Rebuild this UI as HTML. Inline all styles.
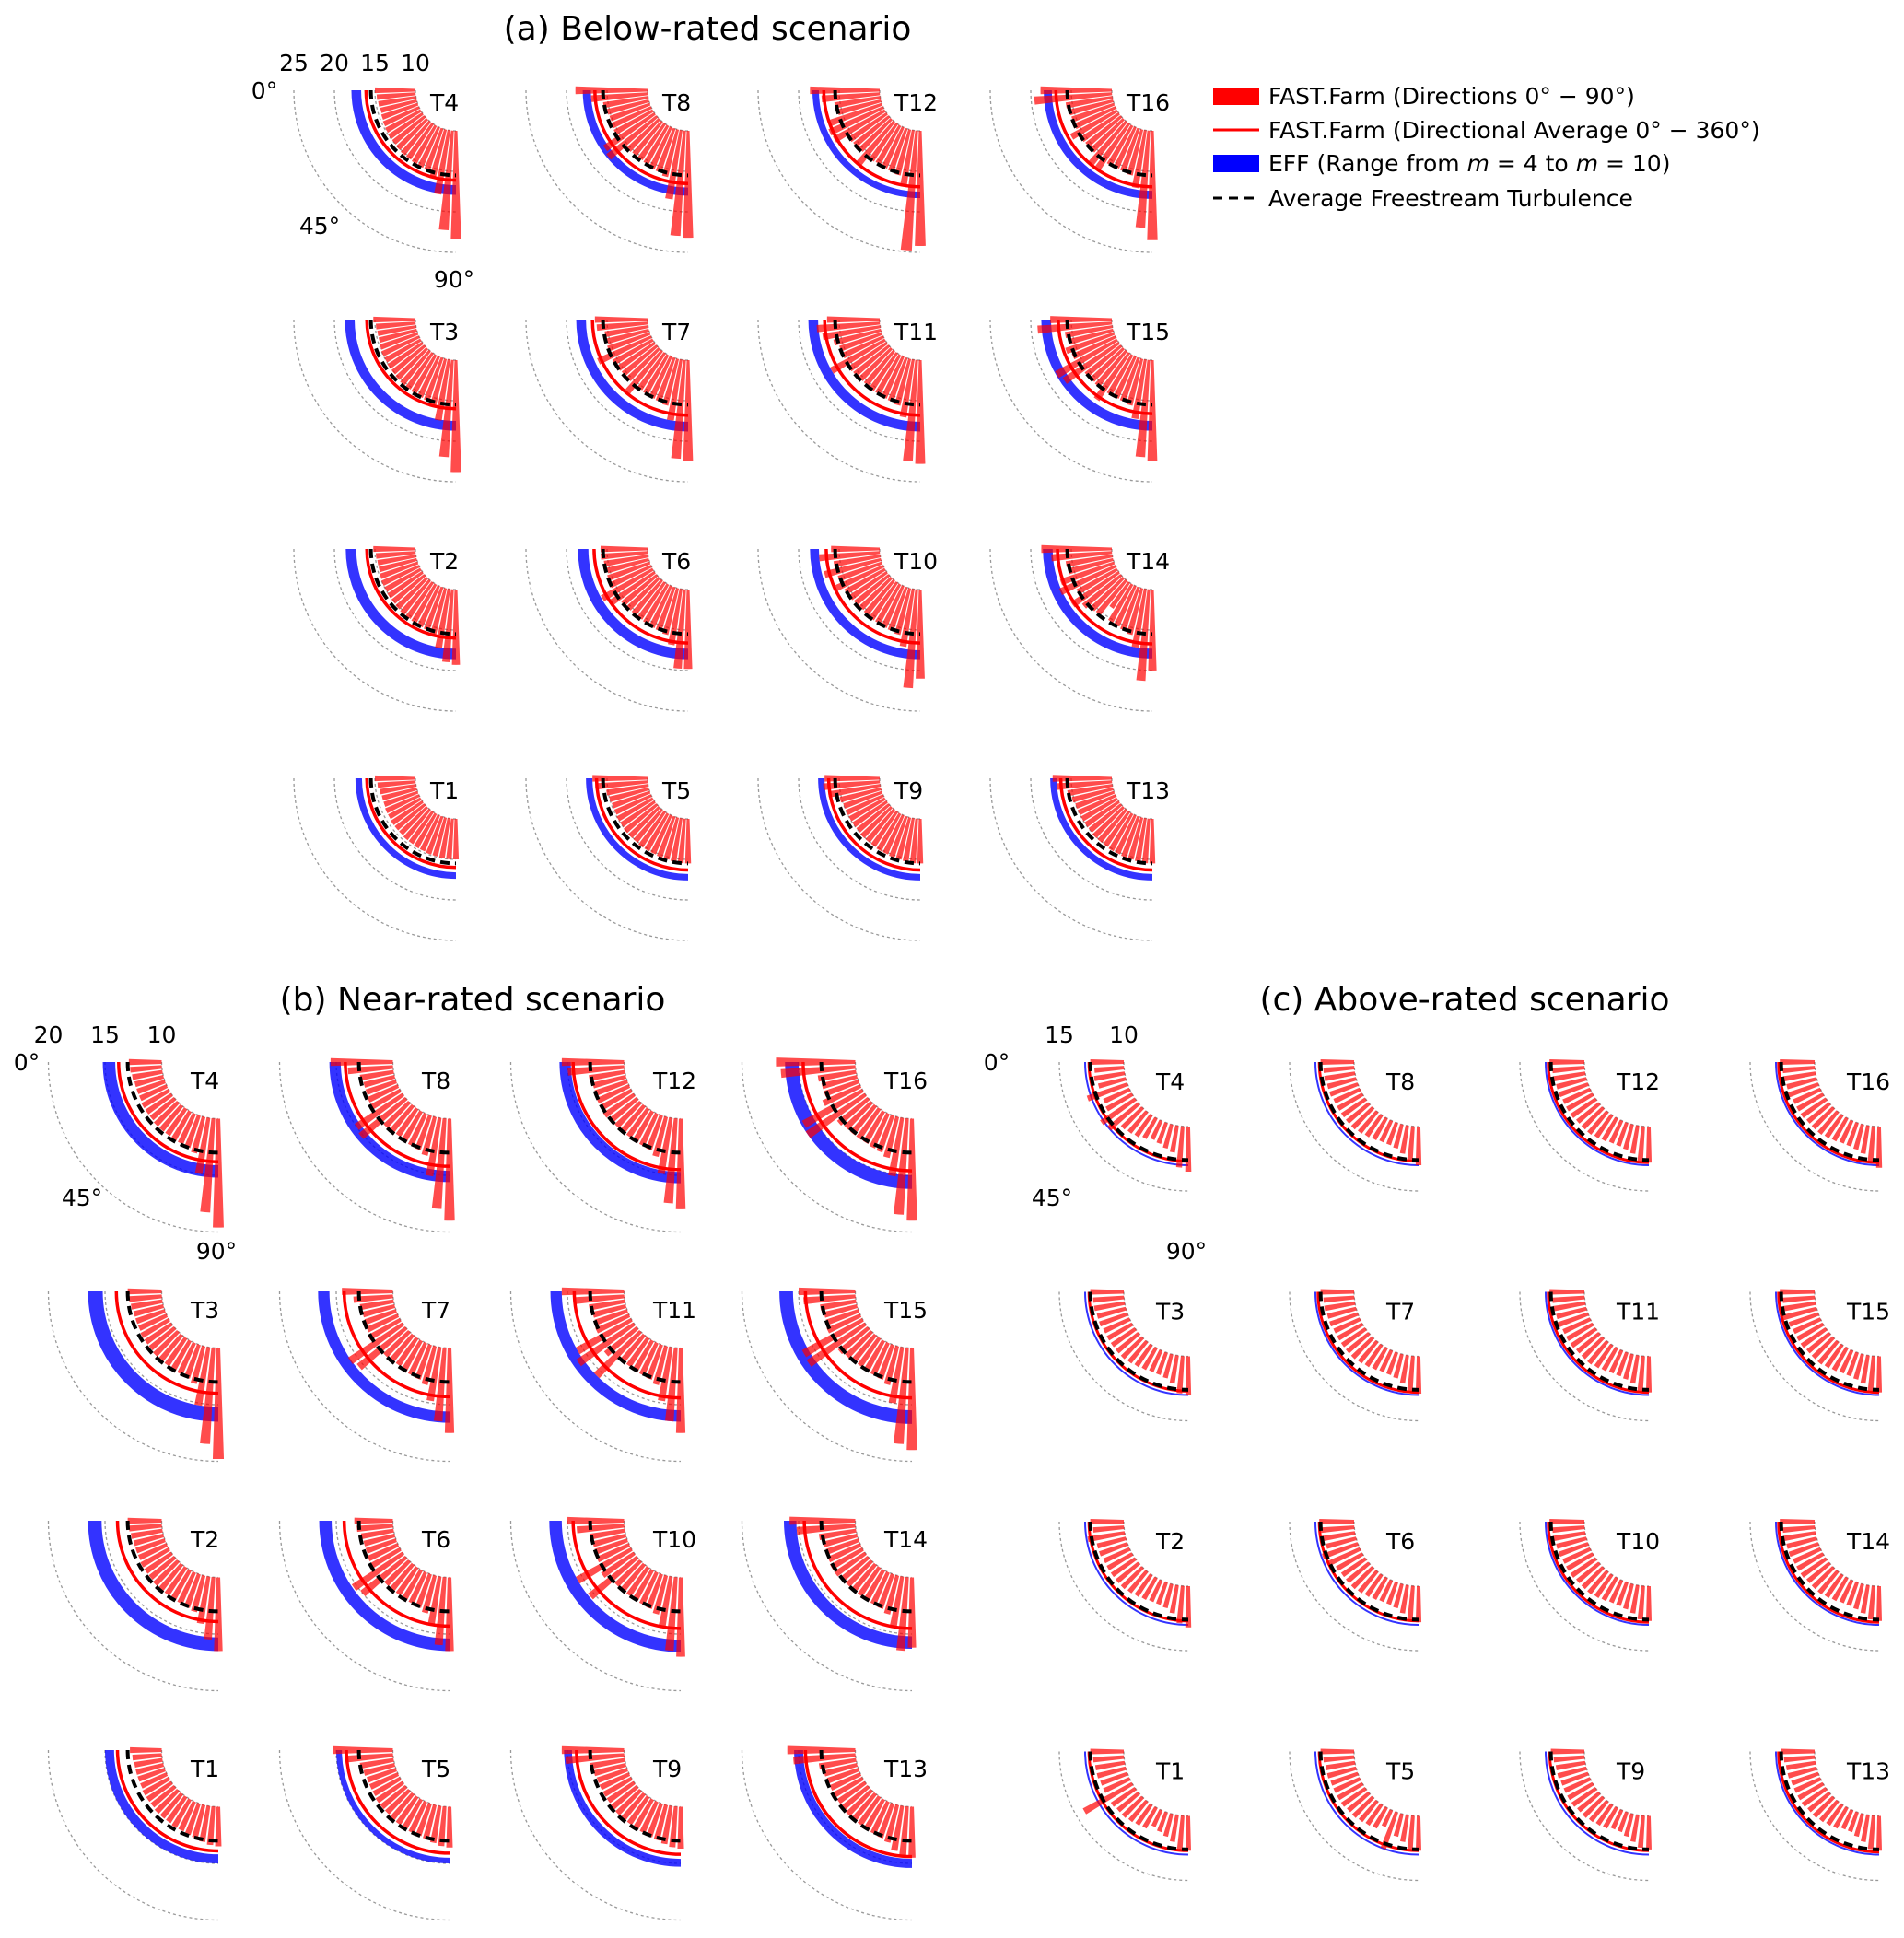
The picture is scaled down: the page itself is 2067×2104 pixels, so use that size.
<!DOCTYPE html>
<html><head><meta charset="utf-8"><style>
html,body{margin:0;padding:0;background:#fff;}
svg{display:block;font-family:"DejaVu Sans","Liberation Sans",sans-serif;}
</style></head><body>
<svg id="fig" width="2067" height="2104" viewBox="0 0 2067 2104" xmlns="http://www.w3.org/2000/svg">
<text x="768" y="43" font-size="36" text-anchor="middle">(a) Below-rated scenario</text>
<text x="513" y="1097" font-size="36" text-anchor="middle">(b) Near-rated scenario</text>
<text x="1590" y="1097" font-size="36" text-anchor="middle">(c) Above-rated scenario</text>
<g font-size="25">
<rect x="1317" y="95" width="50" height="19" fill="#ff0000"/>
<text x="1377" y="113">FAST.Farm (Directions 0° − 90°)</text>
<line x1="1317" y1="141" x2="1367" y2="141" stroke="#ff0000" stroke-width="3"/>
<text x="1377" y="150">FAST.Farm (Directional Average 0° − 360°)</text>
<rect x="1317" y="168" width="50" height="19" fill="#0000ff"/>
<text x="1377" y="186">EFF (Range from <tspan font-style="italic">m</tspan> = 4 to <tspan font-style="italic">m</tspan> = 10)</text>
<line x1="1317" y1="215" x2="1367" y2="215" stroke="#000" stroke-width="3" stroke-dasharray="10,7"/>
<text x="1377" y="224">Average Freestream Turbulence</text>
</g>
</svg>
<script>
// directions of bars (degrees)
var directions = [0,5,10,15,20,25,30,35,40,45,50,55,60,65,70,75,80,85,90];
// turbine layout order in each panel grid (rows top->bottom, cols left->right)
var gridTurbines = [["T4","T8","T12","T16"],["T3","T7","T11","T15"],["T2","T6","T10","T14"],["T1","T5","T9","T13"]];

// ---- Panel (a) Below-rated ----
var aFree = 15.5;
var aAvg = {T4:16.1,T8:16.5,T12:16.9,T16:16.9,T3:16.0,T7:16.8,T11:16.8,T15:16.6,T2:16.0,T6:16.6,T10:16.6,T14:16.7,T1:16.0,T5:16.3,T9:16.3,T13:16.3};
var aEffLo = {T4:16.7,T8:17.0,T12:17.5,T16:17.4,T3:17.5,T7:17.6,T11:17.6,T15:17.5,T2:17.3,T6:17.3,T10:17.5,T14:17.3,T1:16.6,T5:16.8,T9:16.8,T13:16.8};
var aEffHi = {T4:17.9,T8:18.0,T12:18.3,T16:18.4,T3:18.7,T7:18.8,T11:18.8,T15:18.7,T2:18.6,T6:18.6,T10:18.6,T14:18.5,T1:17.4,T5:17.6,T9:17.6,T13:17.6};
var aBars = {
T4:[15.0,14.8,14.7,14.6,14.7,14.8,14.9,15.0,15.0,15.1,15.2,15.2,15.3,15.4,15.5,16.0,18.0,22.3,23.4],
T8:[18.9,17.0,15.6,15.3,15.2,15.3,15.4,17.5,17.8,15.4,15.3,15.3,15.4,15.6,15.7,16.0,18.6,23.0,23.2],
T12:[18.6,17.2,15.7,15.5,16.8,17.3,17.2,15.6,15.5,15.4,16.8,15.5,15.4,15.5,15.6,15.8,17.0,24.8,24.2],
T16:[18.8,19.6,15.8,15.6,15.5,15.5,16.5,15.6,15.5,15.5,16.9,17.0,15.6,15.5,15.6,15.8,17.2,22.0,23.5],
T3:[15.2,14.9,14.8,14.8,14.9,15.0,15.0,15.1,15.1,15.2,15.3,15.3,15.4,15.5,15.6,16.2,17.6,22.0,23.8],
T7:[16.5,16.3,15.4,15.3,15.5,17.2,15.6,15.5,15.4,15.4,16.7,15.4,15.5,15.6,15.7,15.9,17.6,22.2,22.5],
T11:[16.5,17.8,17.2,16.0,15.5,15.5,17.6,15.6,15.5,15.4,15.4,15.5,15.5,15.6,15.7,15.9,17.2,22.5,22.8],
T15:[17.6,19.2,15.9,15.6,16.3,15.8,18.6,18.2,15.6,15.5,15.6,17.0,15.6,15.6,15.7,15.9,17.4,22.0,22.5],
T2:[15.2,14.9,14.8,14.8,14.9,15.0,15.0,15.1,15.1,15.2,15.3,15.3,15.4,15.5,15.6,16.2,17.4,19.0,19.3],
T6:[15.8,15.8,15.5,15.3,15.5,15.6,17.2,16.8,15.5,15.4,15.4,15.4,15.5,15.6,15.7,15.9,17.0,19.8,19.8],
T10:[16.0,17.5,15.8,17.2,15.7,16.8,15.6,15.5,15.4,15.3,15.4,15.5,15.5,15.6,15.7,15.9,17.2,22.2,21.0],
T14:[18.7,17.5,15.8,15.7,17.0,17.5,15.6,17.0,16.0,15.5,15.4,13.8,15.3,15.4,15.6,15.9,17.3,21.3,20.0],
T1:[15.0,14.7,14.5,14.4,14.4,14.5,14.5,14.6,14.6,14.6,14.7,14.7,14.8,14.8,14.9,14.9,15.0,15.0,15.0],
T5:[16.8,16.3,15.2,15.0,14.9,14.9,15.0,15.0,15.1,15.1,15.1,15.2,15.2,15.2,15.3,15.3,15.4,15.5,15.5],
T9:[16.8,17.0,16.5,15.2,15.0,15.0,15.0,15.0,15.0,15.1,15.1,15.1,15.2,15.2,15.3,15.3,15.4,15.5,15.5],
T13:[17.3,16.8,15.6,15.2,15.0,15.0,15.0,15.0,15.0,15.1,15.1,15.1,15.2,15.2,15.3,15.3,15.4,15.5,15.5]
};
var aRadialTicks = [10,15,20,25];

// ---- Panel (b) Near-rated ----
var bFree = 13.0;
var bAvg = {T4:13.8,T8:14.2,T12:14.5,T16:14.6,T3:14.0,T7:14.3,T11:14.4,T15:14.4,T2:13.9,T6:14.3,T10:14.5,T14:14.5,T1:13.9,T5:14.1,T9:14.2,T13:14.4};
var bEffLo = {T4:14.1,T8:14.6,T12:14.7,T16:15.0,T3:15.2,T7:15.6,T11:15.5,T15:15.5,T2:15.3,T6:15.4,T10:15.5,T14:15.2,T1:14.2,T5:14.5,T9:14.6,T13:14.6};
var bEffHi = {T4:15.2,T8:15.6,T12:15.7,T16:16.2,T3:16.5,T7:16.6,T11:16.5,T15:16.7,T2:16.5,T6:16.5,T10:16.6,T14:16.3,T1:15.0,T5:15.0,T9:15.3,T13:15.4};
var bBars = {
T4:[12.9,12.8,12.7,12.6,12.6,12.6,12.7,12.7,12.7,12.8,12.8,12.8,12.9,12.9,13.0,13.3,15.0,18.3,19.6],
T8:[15.5,14.0,13.0,12.8,12.8,12.9,13.0,15.0,15.2,13.0,12.9,12.9,13.0,13.1,13.2,13.5,15.2,18.0,19.0],
T12:[15.5,15.0,13.2,13.0,13.0,13.1,13.1,13.2,13.1,13.0,13.0,13.0,13.1,13.1,13.2,13.6,15.0,17.5,18.0],
T16:[17.0,16.6,13.4,13.2,13.2,13.6,16.0,16.2,13.4,13.2,13.2,13.2,13.2,13.3,13.4,13.7,15.2,18.5,19.0],
T3:[13.0,12.9,12.8,12.7,12.7,12.7,12.8,12.8,12.8,12.9,12.9,12.9,13.0,13.0,13.1,13.4,15.2,18.5,19.8],
T7:[14.5,13.5,13.0,12.9,12.9,13.0,13.2,15.7,15.4,13.0,12.9,12.9,13.0,13.1,13.2,13.5,14.8,16.5,17.5],
T11:[15.5,14.5,13.2,13.0,13.0,13.2,15.5,16.0,13.6,15.5,13.0,13.0,13.1,13.1,13.2,13.5,14.8,16.5,17.5],
T15:[15.0,14.6,13.2,13.0,13.0,13.2,16.0,16.1,13.3,13.1,13.0,13.0,13.1,13.1,13.2,13.5,15.0,18.5,19.0],
T2:[13.0,12.9,12.8,12.7,12.7,12.7,12.8,12.8,12.8,12.9,12.9,12.9,13.0,13.0,13.1,13.3,14.2,15.5,16.5],
T6:[13.4,13.2,12.9,12.8,12.8,12.9,13.0,15.3,15.0,12.9,12.9,12.9,13.0,13.0,13.1,13.4,14.3,16.0,16.5],
T10:[15.0,14.2,13.1,13.0,13.0,13.1,15.5,13.4,15.4,13.0,12.9,13.0,13.0,13.1,13.2,13.5,14.6,16.5,17.0],
T14:[15.8,15.2,13.3,13.1,13.0,13.1,13.2,13.2,13.1,13.0,13.0,13.0,13.1,13.1,13.2,13.5,14.6,16.5,16.2],
T1:[12.8,12.6,12.5,12.5,12.5,12.5,12.6,12.6,12.6,12.7,12.7,12.7,12.8,12.8,12.9,13.0,13.2,13.4,13.5],
T5:[15.3,14.0,13.0,12.8,12.7,12.7,12.7,12.8,12.8,12.8,12.9,12.9,12.9,13.0,13.0,13.1,13.3,13.5,13.6],
T9:[15.5,15.2,13.1,12.9,12.8,12.8,12.8,12.8,12.9,12.9,12.9,12.9,13.0,13.0,13.1,13.2,13.4,13.6,13.7],
T13:[16.0,15.5,13.3,13.0,12.9,12.9,12.9,12.9,12.9,13.0,13.0,13.0,13.1,13.1,13.2,13.4,14.0,14.5,14.5]
};
var bRadialTicks = [10,15,20];

// ---- Panel (c) Above-rated ----
var cFree = 12.6;
var cAvg = {T4:12.7,T8:12.7,T12:12.8,T16:12.8,T3:12.7,T7:12.8,T11:12.8,T15:12.8,T2:12.7,T6:12.7,T10:12.8,T14:12.8,T1:12.7,T5:12.7,T9:12.7,T13:12.8};
var cEffLo = {T4:12.95,T8:12.95,T12:12.95,T16:12.95,T3:12.95,T7:12.95,T11:12.95,T15:12.95,T2:12.95,T6:12.95,T10:12.95,T14:12.95,T1:12.95,T5:12.95,T9:12.95,T13:12.95};
var cEffHi = {T4:13.05,T8:13.05,T12:13.05,T16:13.05,T3:13.05,T7:13.05,T11:13.05,T15:13.05,T2:13.05,T6:13.05,T10:13.05,T14:13.05,T1:13.05,T5:13.05,T9:13.05,T13:13.05};
var cBars = {
T4:[12.6,12.3,12.4,12.2,13.3,12.2,12.3,13.2,13.0,12.2,12.1,12.0,11.8,11.6,11.7,11.9,12.1,13.2,13.5],
T8:[12.6,12.4,12.4,12.3,12.3,12.2,12.2,12.2,12.2,12.2,12.1,12.0,11.9,11.8,11.8,11.9,12.2,12.8,13.0],
T12:[12.7,12.5,12.5,12.4,12.4,12.3,12.3,12.3,12.2,12.2,12.2,12.1,12.0,11.9,11.9,12.0,12.2,12.7,12.8],
T16:[12.7,12.5,12.5,12.4,12.7,12.3,12.3,12.3,12.2,12.2,12.2,12.1,12.0,11.9,11.9,12.0,12.2,12.8,13.2],
T3:[12.6,12.4,12.4,12.3,12.3,12.2,12.2,12.2,12.2,12.2,12.1,12.0,11.9,11.8,11.8,11.9,12.2,12.9,13.0],
T7:[12.6,12.4,12.4,12.3,12.3,12.2,12.2,12.2,12.2,12.2,12.1,12.0,11.9,11.8,11.8,11.9,12.2,12.8,12.9],
T11:[12.7,12.5,12.5,12.4,12.9,12.3,12.3,12.3,12.2,12.2,12.2,12.1,12.0,11.9,11.9,12.0,12.2,12.7,12.8],
T15:[12.7,12.5,12.5,12.9,12.4,12.3,12.3,12.3,12.2,12.2,12.2,12.1,12.0,11.9,11.9,12.0,12.2,12.7,12.8],
T2:[12.6,12.4,12.9,12.3,12.3,12.2,12.2,12.2,12.2,12.2,12.1,12.0,11.9,11.8,11.8,11.9,12.2,12.9,13.2],
T6:[12.7,12.6,12.7,12.4,12.9,12.8,12.3,12.2,12.2,12.2,12.1,12.0,11.9,11.8,11.8,11.9,12.2,12.7,12.8],
T10:[12.7,12.5,12.5,12.4,12.4,12.3,12.3,12.3,12.2,12.2,12.2,12.1,12.0,11.9,11.9,12.0,12.2,12.6,12.7],
T14:[12.7,12.5,12.5,12.4,12.4,12.3,12.3,12.3,12.2,12.2,12.2,12.1,12.0,11.9,11.9,12.0,12.2,12.6,12.7],
T1:[12.6,12.4,12.3,12.3,12.2,12.2,14.3,12.2,12.1,12.1,12.0,11.9,11.8,11.4,11.6,11.8,12.1,12.6,12.7],
T5:[12.6,12.4,12.3,12.3,12.2,12.2,12.2,12.2,12.1,12.1,12.0,11.9,11.8,11.4,13.0,11.8,12.1,12.6,12.7],
T9:[12.6,12.4,12.3,12.3,12.2,12.2,12.2,12.2,12.1,12.1,12.0,11.9,11.8,11.6,11.6,11.8,12.1,12.5,12.6],
T13:[12.6,12.4,12.3,12.3,12.2,12.2,12.2,12.2,12.1,12.1,12.0,11.9,11.8,11.6,11.6,11.8,12.1,12.6,12.7]
};
var cRadialTicks = [10,15];

var NS = "http://www.w3.org/2000/svg";
var svg = document.getElementById('fig');
function mk(tag, attrs, parent){
  var e = document.createElementNS(NS, tag);
  for (var k in attrs) e.setAttribute(k, attrs[k]);
  (parent||svg).appendChild(e);
  return e;
}
function pt(cx, cy, r, deg){
  var t = deg*Math.PI/180;
  return [cx - r*Math.cos(t), cy + r*Math.sin(t)];
}
function arcPath(cx, cy, r, d0, d1){
  var p0 = pt(cx,cy,r,d0), p1 = pt(cx,cy,r,d1);
  return "M"+p0[0].toFixed(2)+","+p0[1].toFixed(2)+" A"+r+","+r+" 0 0 0 "+p1[0].toFixed(2)+","+p1[1].toFixed(2);
}
function wedge(cx, cy, r0, r1, d0, d1){
  var a = pt(cx,cy,r0,d0), b = pt(cx,cy,r1,d0), c = pt(cx,cy,r1,d1), d = pt(cx,cy,r0,d1);
  return "M"+a[0]+","+a[1]+" L"+b[0]+","+b[1]+" A"+r1+","+r1+" 0 0 0 "+c[0]+","+c[1]+" L"+d[0]+","+d[1]+" A"+r0+","+r0+" 0 0 1 "+a[0]+","+a[1]+"Z";
}

var panels = [
 {id:'a', x0:495, dx:252, y0:98, dy:249, scale:8.8, origin:5, rmin:10, ticks:aRadialTicks, bars:aBars, avg:aAvg, lo:aEffLo, hi:aEffHi, free:aFree, bw:4.0, lab:[-28,22], lw:3.5},
 {id:'b', x0:237, dx:251, y0:1153, dy:249, scale:12.3, origin:5, rmin:10, ticks:bRadialTicks, bars:bBars, avg:bAvg, lo:bEffLo, hi:bEffHi, free:bFree, bw:3.8, lab:[-30,29], lw:3.5},
 {id:'c', x0:1290, dx:250, y0:1153, dy:249.5, scale:14, origin:5, rmin:10, ticks:cRadialTicks, bars:cBars, avg:cAvg, lo:cEffLo, hi:cEffHi, free:cFree, bw:3.2, lab:[-35,30], lw:3}
];

panels.forEach(function(P){
  for (var j=0;j<4;j++) for (var i=0;i<4;i++){
    var name = gridTurbines[j][i];
    var cx = P.x0 + P.dx*i, cy = P.y0 + P.dy*j;
    var R = function(v){ return P.scale*(v - P.origin); };
    var g = mk('g', {});
    
    
    P.ticks.forEach(function(t){
      var gl = mk('path', {d:arcPath(cx,cy,R(t),0,90), fill:'none', stroke:'#999', 'stroke-width':1.3, 'stroke-dasharray':'3,3'}, g);
      
      
    });
    var lo = P.lo[name], hi = P.hi[name];
    var band = mk('path', {d:arcPath(cx,cy,(R(lo)+R(hi))/2,0,90), fill:'none', stroke:'#0000ff', 'stroke-opacity':0.8, 'stroke-width':Math.max(2, R(hi)-R(lo))}, g);
    
    
    var av = mk('path', {d:arcPath(cx,cy,R(P.avg[name]),0,90), fill:'none', stroke:'#ff0000', 'stroke-width':P.lw}, g);
    
    
    var vals = P.bars[name];
    for (var k=0;k<directions.length;k++){
      var d = directions[k];
      var b = mk('path', {d:wedge(cx,cy,R(P.rmin),R(vals[k]),d-P.bw/2,d+P.bw/2), fill:'#ff0000', 'fill-opacity':0.7}, g);
      
      
    }
    var fr = mk('path', {d:arcPath(cx,cy,R(P.free),0,90), fill:'none', stroke:'#000', 'stroke-width':4, 'stroke-dasharray':'10,6'}, g);
    
    
    var tl = mk('text', {x:cx+P.lab[0], y:cy+P.lab[1], 'font-size':25}, g);
    tl.textContent = name;
    
    
    if (i===0 && j===0){
      P.ticks.forEach(function(t){
        var rl = mk('text', {x:cx-R(t), y:cy-21, 'font-size':25, 'text-anchor':'middle'}, g);
        rl.textContent = String(t);
        
        
      });
      [[0,-208,9],[45,-148,156],[90,-2,214]].forEach(function(a){
        var al = mk('text', {x:cx+a[1], y:cy+a[2], 'font-size':25, 'text-anchor':'middle'}, g);
        al.textContent = a[0]+'°';
        
        
      });
    }
  }
});
</script>
</body></html>
